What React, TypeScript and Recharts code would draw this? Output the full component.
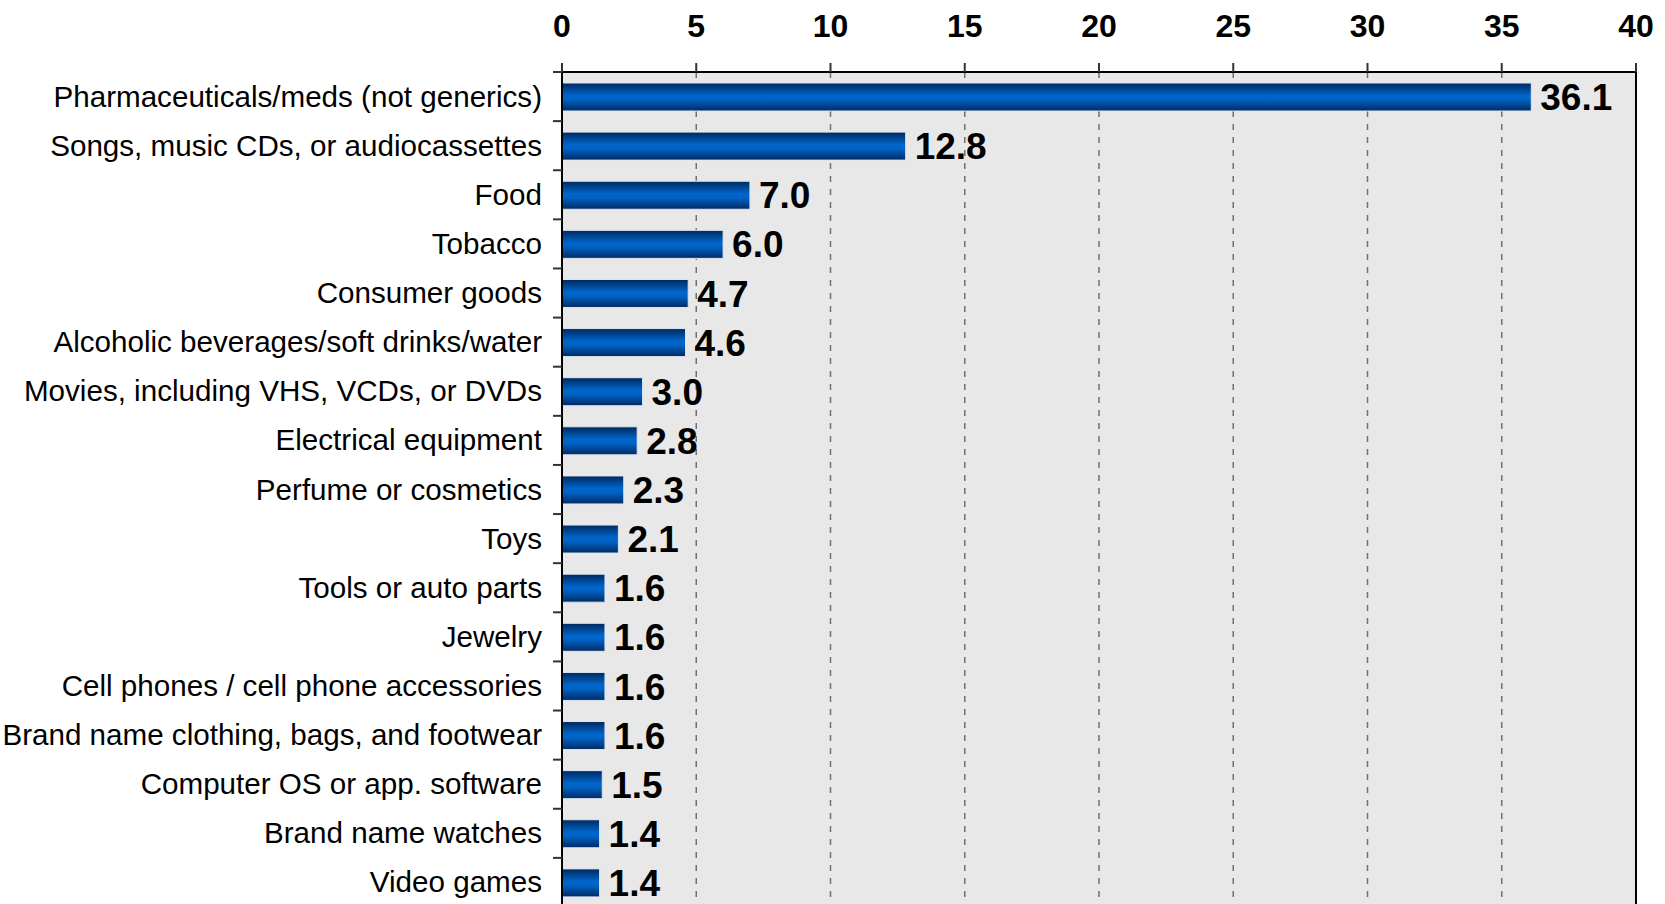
import { BarChart, Bar, XAxis, YAxis, CartesianGrid, LabelList, ReferenceLine } from 'recharts';

const categories = [
  'Pharmaceuticals/meds (not generics)',
  'Songs, music CDs, or audiocassettes',
  'Food',
  'Tobacco',
  'Consumer goods',
  'Alcoholic beverages/soft drinks/water',
  'Movies, including VHS, VCDs, or DVDs',
  'Electrical equipment',
  'Perfume or cosmetics',
  'Toys',
  'Tools or auto parts',
  'Jewelry',
  'Cell phones / cell phone accessories',
  'Brand name clothing, bags, and footwear',
  'Computer OS or app. software',
  'Brand name watches',
  'Video games',
];

const shares = [36.1, 12.8, 7.0, 6.0, 4.7, 4.6, 3.0, 2.8, 2.3, 2.1, 1.6, 1.6, 1.6, 1.6, 1.5, 1.4, 1.4];

const xTicks = [0, 5, 10, 15, 20, 25, 30, 35, 40];

const data = categories.map((name, i) => ({ name, value: shares[i] }));

const W = 1665;
const H = 907;
const TOP = 72;
const FONT = '"Liberation Sans", Arial, sans-serif';
const band = (H - TOP) / data.length;

// category label plus the small tick sitting on the band boundary above it
const CategoryTick = ({ x, y, payload }: any) => (
  <g>
    <line x1={x + 11} x2={x + 20} y1={y - band / 2} y2={y - band / 2} stroke="#333" strokeWidth={2} />
    <text x={x} y={y} dy={10} textAnchor="end" fontSize={29.6} fontFamily={FONT} fill="#000">
      {payload.value}
    </text>
  </g>
);

const App = () => {
  return (
    <div style={{ position: 'absolute', left: 0, top: 0, width: W, height: 904, overflow: 'hidden', background: '#fff' }}>
      <BarChart
        width={W}
        height={H}
        data={data}
        layout="vertical"
        margin={{ top: 0, right: 29, bottom: 0, left: 0 }}
        barSize={28}
      >
        <defs>
          <linearGradient id="barFill" x1="0" y1="0" x2="0" y2="1">
            <stop offset="0%" stopColor="#00285c" />
            <stop offset="45%" stopColor="#0066cc" />
            <stop offset="60%" stopColor="#0062c4" />
            <stop offset="100%" stopColor="#002a62" />
          </linearGradient>
        </defs>
        <CartesianGrid
          horizontal={false}
          fill="#e8e8e8"
          stroke="#707070"
          strokeWidth={1.5}
          strokeDasharray="6 7"
        />
        <XAxis
          type="number"
          orientation="top"
          domain={[0, 40]}
          ticks={xTicks}
          height={TOP}
          tickSize={9}
          tickMargin={26}
          axisLine={{ stroke: '#000', strokeWidth: 2 }}
          tickLine={{ stroke: '#333', strokeWidth: 2 }}
          tick={{ fontSize: 32, fontWeight: 'bold', fill: '#000', fontFamily: FONT }}
          interval={0}
        />
        <YAxis
          type="category"
          dataKey="name"
          width={562}
          tickSize={9}
          tickMargin={11}
          tickLine={false}
          axisLine={{ stroke: '#000', strokeWidth: 2 }}
          tick={<CategoryTick />}
          interval={0}
        />
        <ReferenceLine x={40} stroke="#000" strokeWidth={2} />
        <Bar dataKey="value" fill="url(#barFill)" stroke="#dde6f2" strokeWidth={1} isAnimationActive={false}>
          <LabelList
            dataKey="value"
            position="right"
            offset={9}
            formatter={(v: any) => Number(v).toFixed(1)}
            style={{ fontSize: 37, fontWeight: 'bold', fill: '#000', fontFamily: FONT }}
          />
        </Bar>
      </BarChart>
    </div>
  );
};

export default App;
